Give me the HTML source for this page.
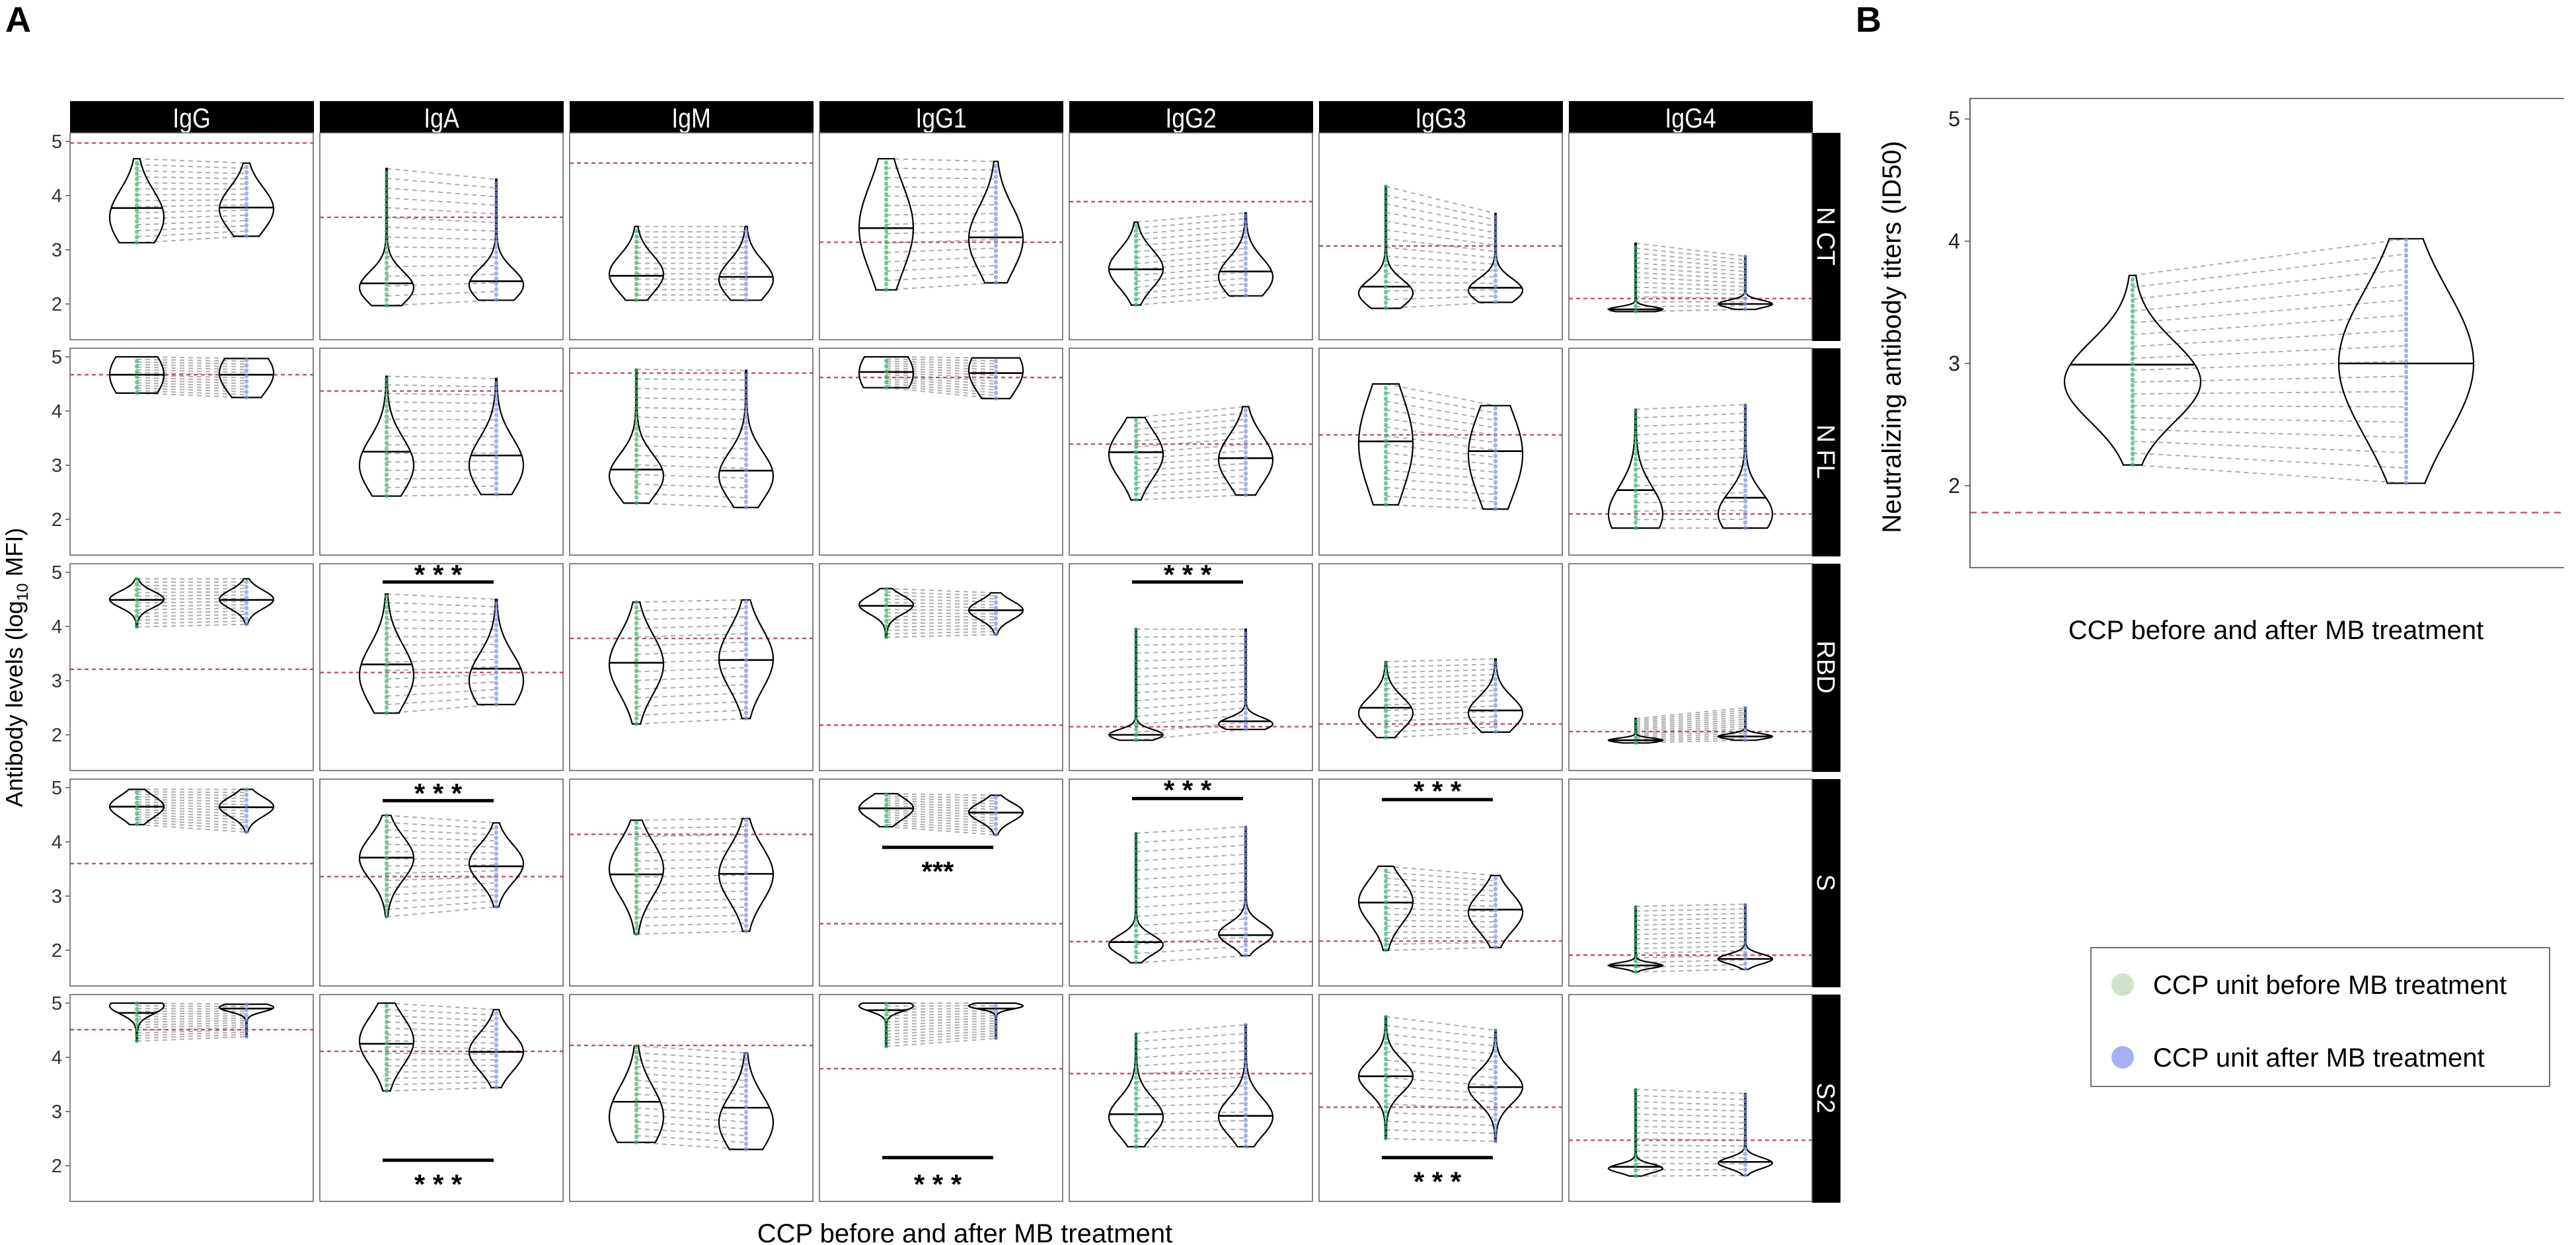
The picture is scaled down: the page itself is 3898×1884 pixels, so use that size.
<!DOCTYPE html>
<html><head><meta charset="utf-8"><style>
html,body{margin:0;padding:0;background:#fff;}
svg{display:block;font-family:"Liberation Sans",sans-serif;}
</style></head><body>
<svg id="fig" width="3898" height="1884" viewBox="0 0 3898 1884" xmlns="http://www.w3.org/2000/svg">
<text x="8" y="48" font-size="54" font-weight="bold">A</text>
<text x="2808" y="48" font-size="54" font-weight="bold">B</text>
<text transform="translate(34,1010) rotate(-90)" text-anchor="middle" font-size="36">Antibody levels (log<tspan font-size="24" dy="8">10</tspan><tspan dy="-8"> MFI)</tspan></text>
<text x="1460" y="1880" text-anchor="middle" font-size="40">CCP before and after MB treatment</text>
<text transform="translate(2876,510) rotate(-90)" text-anchor="middle" font-size="40">Neutralizing antibody titers (ID50)</text>
<text x="3444" y="967" text-anchor="middle" font-size="40">CCP before and after MB treatment</text>
<g id="layer"></g>
<g>
<rect x="3164" y="1434" width="694" height="210" fill="#fff" stroke="#444" stroke-width="1.5"/>
<circle cx="3212" cy="1490" r="17" fill="#cfe3c8"/>
<text x="3258" y="1504" font-size="40">CCP unit before MB treatment</text>
<circle cx="3212" cy="1600" r="17" fill="#a9b0f0"/>
<text x="3258" y="1614" font-size="40">CCP unit after MB treatment</text>
</g>
</svg>
<script>
const antigens = ["N CT","N FL","RBD","S","S2"];
const isotypes = ["IgG","IgA","IgM","IgG1","IgG2","IgG3","IgG4"];
// each entry: [min, max, median, peak, spread] (log10 MFI); row-major (antigen x isotype)
const preViolins = [
[3.13,4.68,3.77,3.6,0.5],[1.97,4.5,2.38,2.3,0.3],[2.07,3.43,2.52,2.55,0.35],[2.26,4.68,3.4,3.4,0.8],[1.98,3.51,2.64,2.65,0.35],[1.92,4.17,2.32,2.2,0.25],[1.86,3.12,1.9,1.9,0.05],
[4.33,5.0,4.67,4.67,0.45],[2.43,4.64,3.25,3.0,0.5],[2.3,4.77,2.92,2.8,0.4],[4.43,5.0,4.72,4.7,0.45],[2.36,3.88,3.24,3.2,0.45],[2.27,4.5,3.44,3.4,0.9],[1.84,4.03,2.54,2.1,0.5],
[3.99,4.88,4.49,4.5,0.15],[2.4,4.6,3.3,3.1,0.55],[2.2,4.45,3.33,3.3,0.55],[3.8,4.7,4.38,4.4,0.17],[1.9,3.95,2.0,2.0,0.1],[1.95,3.35,2.5,2.4,0.3],[1.85,2.3,1.9,1.9,0.04],
[4.32,4.97,4.65,4.65,0.2],[2.62,4.49,3.71,3.7,0.4],[2.3,4.4,3.4,3.5,0.5],[4.28,4.89,4.62,4.62,0.2],[1.77,4.16,2.15,2.1,0.18],[2.0,3.55,2.88,2.9,0.4],[1.6,2.81,1.72,1.72,0.05],
[4.3,5.0,4.82,4.95,0.15],[3.38,5.0,4.25,4.3,0.45],[2.43,4.21,3.18,2.9,0.55],[4.2,5.0,4.87,4.95,0.1],[2.35,4.44,2.95,2.9,0.35],[2.5,4.75,3.65,3.65,0.3],[1.81,3.41,1.98,1.95,0.08]];
const postViolins = [
[3.25,4.6,3.78,3.75,0.4],[2.07,4.3,2.42,2.35,0.3],[2.07,3.43,2.5,2.45,0.35],[2.39,4.63,3.23,3.2,0.6],[2.15,3.68,2.6,2.5,0.35],[2.03,3.67,2.3,2.25,0.22],[1.9,2.88,2.0,2.0,0.07],
[4.25,4.97,4.67,4.7,0.4],[2.46,4.6,3.18,3.0,0.5],[2.22,4.75,2.9,2.8,0.45],[4.23,4.98,4.7,4.75,0.45],[2.45,4.08,3.13,3.1,0.45],[2.19,4.1,3.26,3.2,0.8],[1.84,4.12,2.4,2.1,0.4],
[4.04,4.88,4.49,4.5,0.17],[2.56,4.5,3.22,3.0,0.5],[2.3,4.49,3.38,3.4,0.55],[3.85,4.62,4.3,4.3,0.17],[2.1,3.95,2.25,2.2,0.12],[2.05,3.4,2.45,2.4,0.3],[1.9,2.5,1.97,1.97,0.05],
[4.18,4.97,4.64,4.65,0.18],[2.8,4.35,3.55,3.6,0.35],[2.35,4.43,3.41,3.4,0.5],[4.13,4.86,4.54,4.55,0.17],[1.9,4.28,2.28,2.3,0.2],[2.05,3.38,2.75,2.7,0.35],[1.65,2.85,1.84,1.84,0.09],
[4.38,4.98,4.9,4.92,0.08],[3.44,4.88,4.1,4.1,0.35],[2.3,4.08,3.07,2.8,0.5],[4.35,5.0,4.9,4.95,0.06],[2.35,4.6,2.92,2.9,0.35],[2.45,4.5,3.45,3.45,0.3],[1.82,3.33,2.07,2.05,0.1]];
const cutoffs = [4.97,3.6,4.6,3.14,3.89,3.07,2.1, 4.67,4.37,4.7,4.62,3.39,3.56,2.1, 3.21,3.15,3.78,2.18,2.15,2.2,2.06, 3.6,3.36,4.14,2.49,2.16,2.17,1.91, 4.51,4.11,4.22,3.79,3.7,3.08,2.47];
const sigRows = [2,2,3,3,3,3,4,4,4];
const sigCols = [1,4,1,3,4,5,1,3,5];
const sigBar = [4.82,4.82,4.76,3.9,4.8,4.78,2.1,2.15,2.15];
const sigStar = [5.0,5.0,4.94,3.5,5.0,4.98,1.7,1.7,1.75];
const yTicks = [2,3,4,5];
const bPre = [2.17,3.72,2.99,2.85,0.33];
const bPost = [2.02,4.02,3.0,3.0,0.6];
const bCutoff = 1.78;

const NS="http://www.w3.org/2000/svg";
const layer=document.getElementById('layer');
function mk(tag,attrs,parent){const e=document.createElementNS(NS,tag);for(const k in attrs)e.setAttribute(k,attrs[k]);(parent||layer).appendChild(e);return e;}

function violin(g,cx,v,H,ymap,fill){
  const [mn,mx,med,pk,sd]=v;
  const f=t=>Math.exp(-0.5*Math.pow((t-pk)/sd,2))+0.02;
  let gmax=0;const N=60,pts=[];
  for(let i=0;i<=N;i++){const t=mn+(mx-mn)*i/N;const w=f(t);gmax=Math.max(gmax,w);pts.push([t,w]);}
  let d='';
  pts.forEach((p,i)=>{d+=(i?'L':'M')+(cx+H*p[1]/gmax).toFixed(1)+','+ymap(p[0]).toFixed(1);});
  for(let i=N;i>=0;i--){const p=pts[i];d+='L'+(cx-H*p[1]/gmax).toFixed(1)+','+ymap(p[0]).toFixed(1);}
  d+='Z';
  const path=mk('path',{d:d,fill:'none',stroke:'#000','stroke-width':2.2},g);
  
  
  const wm=H*f(med)/gmax;
  const ml=mk('line',{x1:cx-wm,x2:cx+wm,y1:ymap(med),y2:ymap(med),stroke:'#000','stroke-width':2.6},g);
  
  
  const dots=mk('line',{x1:cx,x2:cx,y1:ymap(mn),y2:ymap(mx),stroke:fill,'stroke-width':6,'stroke-dasharray':'1 7','stroke-linecap':'round',opacity:0.7},g);
  
  
}
function pairLines(g,x1,x2,a,b,ymap,n){
  for(let i=0;i<=n;i++){const t=i/n;
    const va=a[0]+(a[1]-a[0])*t, vb=b[0]+(b[1]-b[0])*t;
    const l=mk('line',{x1:x1,x2:x2,y1:ymap(va),y2:ymap(vb),stroke:'#777','stroke-width':2,'stroke-dasharray':'7 6',opacity:0.6},g);
    
    
  }
}

const L0=106,PW=368,PITCH=378,T0=201,PH=313,RP=326;
isotypes.forEach((n,c)=>{
  const x=L0+c*PITCH;
  const s=mk('rect',{x:x,y:153,width:PW+1,height:48,fill:'#000'});
  
  
  const t=mk('text',{transform:`translate(${x+PW/2},193) scale(0.85,1)`,'text-anchor':'middle','font-size':42,fill:'#fff'});
  t.textContent=n;
  
  
});
antigens.forEach((n,r)=>{
  const y=T0+r*RP;
  const s=mk('rect',{x:2742,y:y,width:43,height:PH+2,fill:'#000'});
  
  
  const t=mk('text',{transform:`translate(2750,${y+PH/2}) rotate(90)`,'text-anchor':'middle','font-size':38,fill:'#fff'});
  t.textContent=n;
  
  
  const ymap=v=>214+r*RP+(5-v)*82;
  yTicks.forEach(tv=>{
    const tl=mk('text',{x:94,y:ymap(tv)+10,'text-anchor':'end','font-size':29,fill:'#333'});
    tl.textContent=tv;
    
    
    const tk=mk('line',{x1:99,x2:106,y1:ymap(tv),y2:ymap(tv),stroke:'#555','stroke-width':1.5});
    
    
  });
  isotypes.forEach((iso,c)=>{
    const k=r*7+c;const x=L0+c*PITCH;
    const g=mk('g',{});
    
    
    const bx=x+101, ax=x+267;
    const cl=mk('line',{x1:x,x2:x+PW,y1:ymap(cutoffs[k]),y2:ymap(cutoffs[k]),stroke:'#c0506e','stroke-width':2.4,'stroke-dasharray':'6 5'},g);
    
    
    pairLines(g,bx,ax,preViolins[k],postViolins[k],ymap,14);
    violin(g,bx,preViolins[k],41,ymap,'#3cb371');
    violin(g,ax,postViolins[k],41,ymap,'#8090e0');
    const fr=mk('rect',{x:x,y:T0+r*RP,width:PW,height:PH,fill:'none',stroke:'#666','stroke-width':1.6},g);
    
    
  });
});
sigRows.forEach((r,i)=>{
  const c=sigCols[i];const x=L0+c*PITCH;
  const ymap=v=>214+r*RP+(5-v)*82;
  const b=mk('line',{x1:x+95,x2:x+263,y1:ymap(sigBar[i]),y2:ymap(sigBar[i]),stroke:'#000','stroke-width':5});
  
  
  const compact=(r===3&&c===3);
  const t=mk('text',{x:x+179,y:ymap(sigStar[i])+18,'text-anchor':'middle','font-size':42,'font-weight':'bold'});
  t.textContent=compact?'***':'* * *';
  
  
});
(function(){
  const ymap=v=>180+(5-v)*185;
  const g=mk('g',{});
  
  
  const cl=mk('line',{x1:2981,x2:3880,y1:ymap(bCutoff),y2:ymap(bCutoff),stroke:'#c0506e','stroke-width':2.4,'stroke-dasharray':'10 7'},g);
  
  
  pairLines(g,3227,3641,bPre,bPost,ymap,16);
  violin(g,3227,bPre,103,ymap,'#3cb371');
  violin(g,3641,bPost,102,ymap,'#8090e0');
  const fr=mk('path',{d:'M3880,149 L2981,149 L2981,859 L3880,859',fill:'none',stroke:'#444','stroke-width':1.6},g);
  
  
  yTicks.forEach(tv=>{
    const tl=mk('text',{x:2966,y:ymap(tv)+11,'text-anchor':'end','font-size':32,fill:'#222'});
    tl.textContent=tv;
    
    
    const tk=mk('line',{x1:2973,x2:2981,y1:ymap(tv),y2:ymap(tv),stroke:'#555','stroke-width':1.5});
    
    
  });
})();
</script>
</body></html>
